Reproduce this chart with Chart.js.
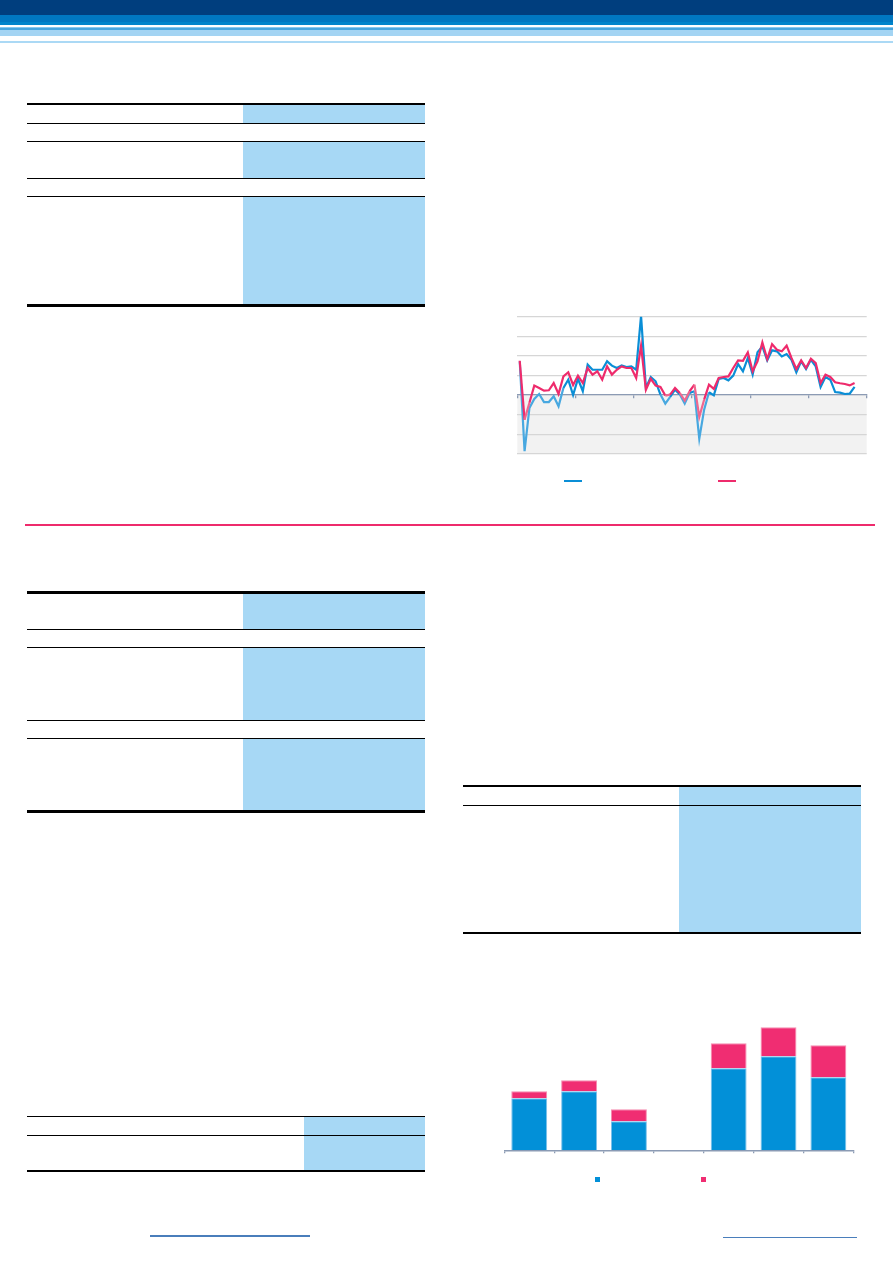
<!DOCTYPE html>
<html>
<head>
<meta charset="utf-8">
<script src="https://cdn.jsdelivr.net/npm/chart.js@4/dist/chart.umd.min.js"></script>
<style>
  html,body{margin:0;padding:0;background:#fff;}
  body{width:893px;height:1263px;position:relative;overflow:hidden;font-family:"Liberation Sans",Arial,sans-serif;}
  .a{position:absolute;}
  .k{position:absolute;background:#000;}
  .b{position:absolute;background:#a7d8f5;}
</style>
</head>
<body>
<script>
// ---------- DATA ----------
// Line chart: 72 monthly slots (6 groups of 12), 70 observed
const lineLabels = [
 'a01','a02','a03','a04','a05','a06','a07','a08','a09','a10','a11','a12',
 'b01','b02','b03','b04','b05','b06','b07','b08','b09','b10','b11','b12',
 'c01','c02','c03','c04','c05','c06','c07','c08','c09','c10','c11','c12',
 'd01','d02','d03','d04','d05','d06','d07','d08','d09','d10','d11','d12',
 'e01','e02','e03','e04','e05','e06','e07','e08','e09','e10','e11','e12',
 'f01','f02','f03','f04','f05','f06','f07','f08','f09','f10','f11','f12'];
const lineBlue = [
 1.72,-2.87,-0.66,-0.20,0.05,-0.36,-0.36,-0.07,-0.58,0.36,0.78,0.00,
 0.83,0.19,1.55,1.29,1.29,1.29,1.72,1.50,1.38,1.51,1.43,1.46,
 1.29,4.05,0.36,0.92,0.70,0.02,-0.44,-0.10,0.27,0.02,-0.44,0.10,
 0.19,-2.24,-0.75,0.14,-0.02,0.82,0.87,0.75,0.99,1.58,1.21,1.89,
 1.04,2.18,2.48,1.77,2.28,2.23,1.97,2.09,1.80,1.16,1.72,1.33,
 1.80,1.46,0.41,0.92,0.78,0.15,0.12,0.05,0.07,0.41,null,null];
const linePink = [
 1.75,-1.26,-0.40,0.48,0.36,0.22,0.24,0.61,0.05,0.95,1.16,0.51,
 0.99,0.61,1.38,1.04,1.21,0.78,1.46,1.04,1.29,1.46,1.38,1.38,
 0.87,2.52,0.27,0.83,0.48,0.41,-0.03,0.02,0.36,0.10,-0.29,0.19,
 0.53,-1.12,-0.24,0.53,0.31,0.87,0.92,0.95,1.38,1.77,1.75,2.18,
 1.21,1.72,2.69,1.84,2.60,2.31,2.23,2.52,1.89,1.33,1.77,1.38,
 1.85,1.63,0.61,1.04,0.92,0.65,0.60,0.56,0.49,0.61,null,null];
const lineYMin = -3, lineYMax = 4, lineYStep = 1;

// Stacked bar chart: 7 categories
const barLabels = ['c1','c2','c3','c4','c5','c6','c7'];
const barBlue = [52, 59, 29, 0, 82, 94, 73];
const barPink = [7, 11, 12, 0, 25, 29, 32];
const barYMax = 130;

// ---------- STATIC PAGE SHAPES ----------
function box(cls, x, y, w, h, color){
  const d = document.createElement('div');
  d.className = cls;
  d.style.left = x+'px'; d.style.top = y+'px';
  d.style.width = w+'px'; d.style.height = h+'px';
  if (color) d.style.background = color;
  document.body.appendChild(d);
  return d;
}
// header bands
box('a',0,0,893,14.7,'#003e7e');
box('a',0,14.7,893,7.5,'#0077c1');
box('a',0,22.2,893,3,'#0084cb');
box('a',0,26.5,893,1.5,'#86c8ef');
box('a',0,28,893,2,'#48a6de');
box('a',0,30,893,6,'#a3d4f3');
box('a',0,41,893,2,'#abd9f5');
// pink separator
box('a',25,524,850,2,'#ee2b6c');
// footer link lines
box('a',150,1234.5,160,2,'#4a7ebb');
box('a',723,1236.7,134,1.2,'#4a7ebb');

// tables
// Table 1
(function(){
  const x=26.7,w=398.3,bx=242.7,bw=425-242.7;
  box('b',bx,105,bw,18); box('b',bx,142,bw,36); box('b',bx,197,bw,107);
  box('k',x,102.7,w,2.5); box('k',x,122.7,w,1.3); box('k',x,140.7,w,1.3);
  box('k',x,177.7,w,1.3); box('k',x,195.7,w,1.3); box('k',x,304,w,3);
})();
// Table 2
(function(){
  const x=26.7,w=398.3,bx=242.7,bw=425-242.7;
  box('b',bx,593.3,bw,36); box('b',bx,648.3,bw,72); box('b',bx,739.3,bw,70.5);
  box('k',x,591,w,2.5); box('k',x,629,w,1.3); box('k',x,647,w,1.3);
  box('k',x,720,w,1.3); box('k',x,738,w,1.3); box('k',x,809.7,w,3);
})();
// Table 3
(function(){
  const x=462.7,w=398.3,bx=679,bw=861-679;
  box('b',bx,786.7,bw,146);
  box('k',x,784.7,w,2.2); box('k',x,805,w,1.2); box('k',x,932,w,2.3);
})();
// Table 4
(function(){
  const x=26.7,w=398.3,bx=303.7,bw=425-303.7;
  box('b',bx,1116.7,bw,54);
  box('k',x,1115.7,w,1.3); box('k',x,1135,w,1.2); box('k',x,1170,w,2.3);
})();

// legends (swatches only, no text in reference)
box('a',564,479.5,18,2.2,'#0a8ed6');
box('a',718,479.5,18,2.2,'#ee2b6c');
box('a',595,1177,5,5,'#0290d8');
box('a',701,1177,5,5,'#f02d72');

// ---------- LINE CHART ----------
const lc = document.createElement('div');
lc.className='a';
Object.assign(lc.style,{left:'507px',top:'307px',width:'370px',height:'157px'});
const lcv = document.createElement('canvas');
lc.appendChild(lcv); document.body.appendChild(lc);

const negBand = {
  id:'negBand',
  beforeDraw(chart){
    const {ctx, chartArea:a, scales:{y}} = chart;
    const y0 = y.getPixelForValue(0), y1 = y.getPixelForValue(lineYMin);
    ctx.save(); ctx.fillStyle='#f2f2f2';
    ctx.fillRect(a.left, y0, a.right-a.left, y1-y0);
    ctx.restore();
  }
};
function segCol(base, light){
  return c => (c.p0.parsed.y + c.p1.parsed.y < 0 ? light : base);
}
new Chart(lcv, {
  type:'line',
  data:{
    labels: lineLabels,
    datasets:[
      {data: linePink, borderColor:'#ee2b6c', borderWidth:2.2, pointRadius:0, tension:0,
       segment:{borderColor: segCol('#ee2b6c','#f0678f')}},
      {data: lineBlue, borderColor:'#0a8ed6', borderWidth:2.2, pointRadius:0, tension:0,
       segment:{borderColor: segCol('#0a8ed6','#48a8e0')}}
    ]
  },
  options:{
    responsive:true, maintainAspectRatio:false, animation:false,
    layout:{padding:{left:10.3,right:10.3,top:9.7,bottom:10.3}},
    plugins:{legend:{display:false}, tooltip:{enabled:false}},
    scales:{
      x:{
        position:{y:0}, offset:true,
        grid:{offset:true, drawOnChartArea:false, drawTicks:true, tickLength:3, lineWidth:1.3,
          color: c => (c.index === undefined || c.index % 12 === 0) ? '#8c9bb4' : 'rgba(0,0,0,0)'},
        border:{display:true, color:'#8c9bb4', width:1.3},
        ticks:{display:false}
      },
      y:{
        min: lineYMin, max: lineYMax,
        grid:{color:'#d6d6d6', lineWidth:1.2, drawTicks:false},
        border:{display:false},
        ticks:{display:false, stepSize: lineYStep}
      }
    }
  },
  plugins:[negBand]
});

// ---------- BAR CHART ----------
const bc = document.createElement('div');
bc.className='a';
Object.assign(bc.style,{left:'494px',top:'1010px',width:'370px',height:'150px'});
const bcv = document.createElement('canvas');
bc.appendChild(bcv); document.body.appendChild(bc);

new Chart(bcv, {
  type:'bar',
  data:{
    labels: barLabels,
    datasets:[
      {data: barBlue, backgroundColor:'#0290d8', borderColor:'#7cc0ea', borderWidth:1, borderSkipped:'bottom',
       categoryPercentage:1, barPercentage:0.72},
      {data: barPink, backgroundColor:'#f02d72', borderColor:'#f58cb0', borderWidth:1, borderSkipped:'bottom',
       categoryPercentage:1, barPercentage:0.72}
    ]
  },
  options:{
    responsive:true, maintainAspectRatio:false, animation:false,
    layout:{padding:{left:10.3,right:10.7,top:10.3,bottom:6.7}},
    plugins:{legend:{display:false}, tooltip:{enabled:false}},
    scales:{
      x:{
        stacked:true,
        grid:{offset:true, drawOnChartArea:false, drawTicks:true, tickLength:3, color:'#8c9bb4', lineWidth:1.3},
        border:{display:true, color:'#8c9bb4', width:1.5},
        ticks:{display:false}
      },
      y:{
        stacked:true, min:0, max:barYMax, display:false
      }
    }
  }
});
</script>
</body>
</html>
